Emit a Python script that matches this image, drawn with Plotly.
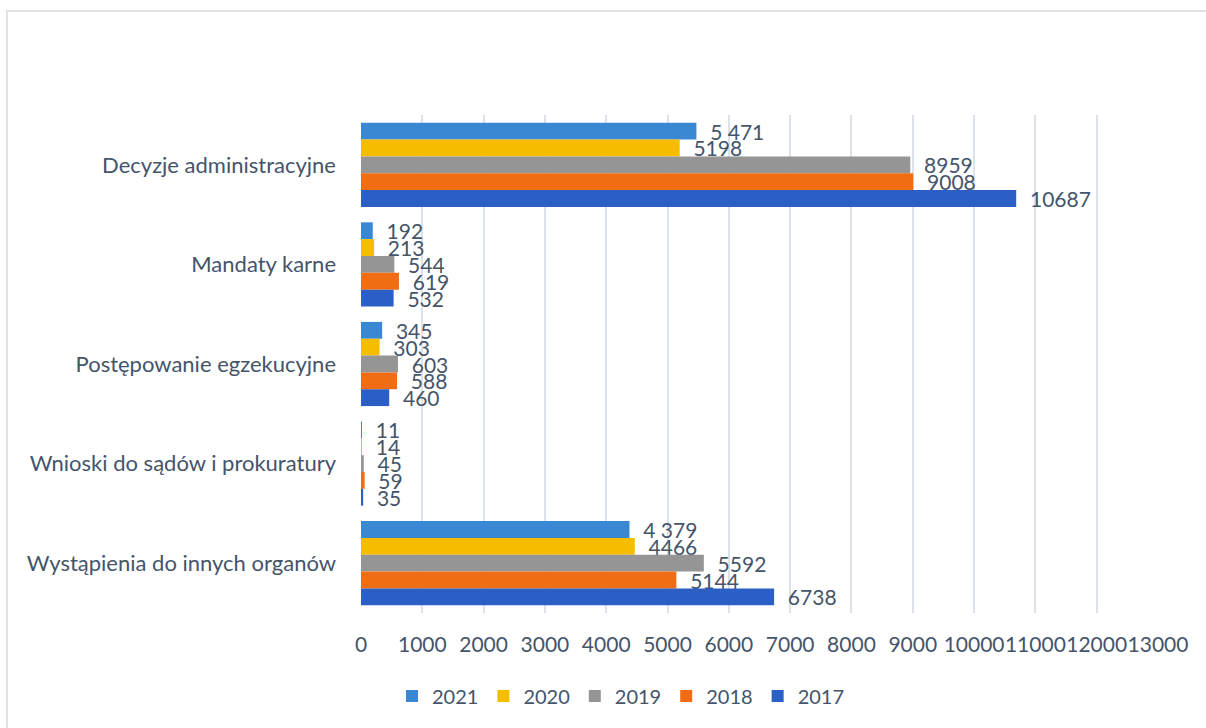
import plotly.graph_objects as go

categories = ["Decyzje administracyjne", "Mandaty karne", "Postępowanie egzekucyjne",
              "Wnioski do sądów i prokuratury", "Wystąpienia do innych organów"]
years = ["2021", "2020", "2019", "2018", "2017"]
v2021 = [5471, 192, 345, 11, 4379]
v2020 = [5198, 213, 303, 14, 4466]
v2019 = [8959, 544, 603, 45, 5592]
v2018 = [9008, 619, 588, 59, 5144]
v2017 = [10687, 532, 460, 35, 6738]
labels2021 = ["5 471", "192", "345", "11", "4 379"]
series = [v2021, v2020, v2019, v2018, v2017]
colors = ["#3A88D4", "#F5BC00", "#959595", "#F06D14", "#2C5FC6"]
xticks = list(range(0, 13001, 1000))

W, H = 1206, 728
L, R, T, B = 361, 48, 115, 115
pw, ph = W - L - R, H - T - B

FONT = "Lato"
TXT = "#44546A"
NB = "\u00a0\u00a0"

fig = go.Figure()
for i, (yr, vals, col) in enumerate(zip(years, series, colors)):
    if yr == "2021":
        txt = [NB + t for t in labels2021]
    else:
        txt = [NB + str(v) for v in vals]
    fig.add_trace(go.Bar(
        y=categories, x=vals, name=yr, orientation="h",
        marker=dict(color=col, line=dict(width=0)),
        text=txt, textposition="outside", cliponaxis=False,
        constraintext="none",
        textfont=dict(family=FONT, size=21, color=TXT),
        hoverinfo="x+name",
    ))

fig.update_layout(
    width=W, height=H,
    margin=dict(l=L, r=R, t=T, b=B, autoexpand=False),
    paper_bgcolor="white", plot_bgcolor="white",
    barmode="group", bargap=0.155, bargroupgap=0,
    font=dict(family=FONT, color=TXT, size=20),
    showlegend=True,
    legend=dict(orientation="h", x=(621 - L) / pw, xanchor="center",
                y=(ph + T - 696) / ph, yanchor="middle",
                font=dict(family=FONT, size=20, color=TXT),
                traceorder="normal", itemwidth=30),
    xaxis=dict(range=[0, 13000], tickvals=xticks, ticktext=[str(t) for t in xticks],
               tickangle=0, automargin=False,
               showgrid=True, gridcolor="#DDE1EA", gridwidth=1.5,
               zeroline=False, showline=False, ticks="",
               tickfont=dict(family=FONT, size=21, color=TXT),
               ticklabelstandoff=17, fixedrange=True),
    yaxis=dict(autorange="reversed", type="category", showgrid=False,
               showline=False, ticks="", automargin=False,
               tickfont=dict(family=FONT, size=22, color=TXT),
               ticklabelstandoff=24, fixedrange=True),
    shapes=[dict(type="rect", xref="paper", yref="paper",
                 x0=(7 - L) / pw, x1=(1230 - L) / pw,
                 y0=(ph + T - 760) / ph, y1=(ph + T - 11) / ph,
                 line=dict(color="#DEE2E8", width=2), fillcolor="rgba(0,0,0,0)",
                 layer="below")],
)

fig.write_html("out.html", config={"displayModeBar": False},
               post_script="document.body.style.margin='0px';document.body.style.overflow='hidden';")
